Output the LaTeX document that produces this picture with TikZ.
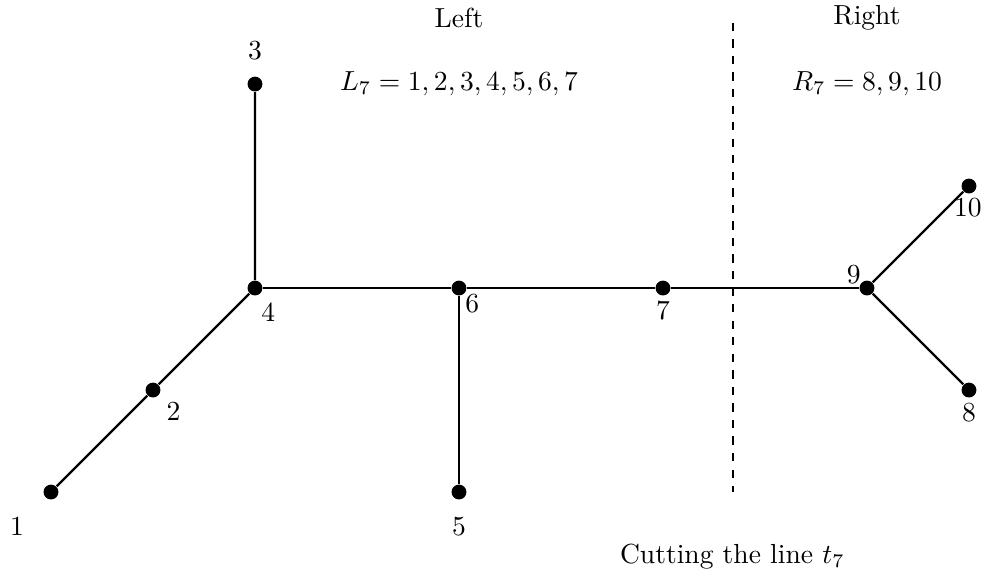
\documentclass[tikz,border=0pt]{standalone}
\begin{document}
\begin{tikzpicture}[x=1.3cm,y=1.3cm,
  vtx/.style={circle,fill=black,inner sep=0pt,minimum size=5.4pt},
  edge/.style={line width=0.8pt},
  lbl/.style={inner sep=0pt}]
\useasboundingbox (-0.5,-0.873) rectangle (9.167,4.824);
\node[vtx] (n1) at (0,0) {};
\node[vtx] (n2) at (1,1) {};
\node[vtx] (n3) at (2,4) {};
\node[vtx] (n4) at (2,2) {};
\node[vtx] (n5) at (4,0) {};
\node[vtx] (n6) at (4,2) {};
\node[vtx] (n7) at (6,2) {};
\node[vtx] (n9) at (8,2) {};
\node[vtx] (n10) at (9,3) {};
\node[vtx] (n8) at (9,1) {};
\draw[edge] (n1) -- (n2) -- (n4) -- (n3);
\draw[edge] (n4) -- (n6) -- (n7) -- (n9);
\draw[edge] (n6) -- (n5);
\draw[edge] (n9) -- (n10);
\draw[edge] (n9) -- (n8);
\node[lbl] (l1) at (-0.333,-0.333) {1};
\node[lbl] (l2) at (1.2,0.79) {2};
\node[lbl] (l3) at (2,4.33) {3};
\node[lbl] (l4) at (2.13,1.765) {4};
\node[lbl] (l5) at (4,-0.34) {5};
\node[lbl] (l6) at (4.13,1.85) {6};
\node[lbl] (l7) at (6,1.78) {7};
\node[lbl] (l9) at (7.87,2.13) {9};
\node[lbl] (l10) at (8.99,2.79) {10};
\node[lbl] (l8) at (9,0.775) {8};
\coordinate (cuttop) at (6.686,4.6);
\coordinate (cutbot) at (6.686,0);
\draw[line width=0.8pt,dashed] (cuttop) -- (cutbot);
\node (left) at (4,4.647) {Left};
\node (right) at (8,4.647) {Right};
\node (lset) at (4,4) {$L_7 = 1,2,3,4,5,6,7$};
\node (rset) at (8,4) {$R_7 = 8,9,10$};
\node (cut) at (6.68,-0.63) {Cutting the line $t_7$};
\end{tikzpicture}
\end{document}
